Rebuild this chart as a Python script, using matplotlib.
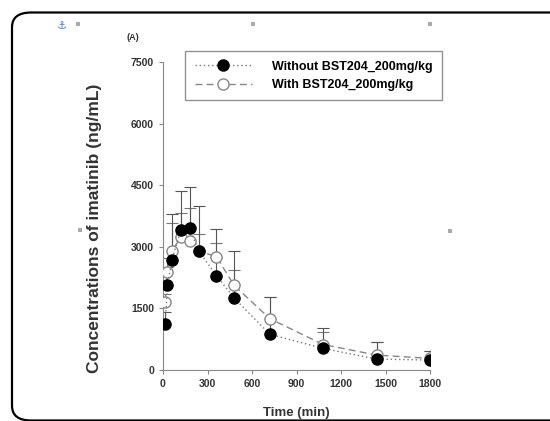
import numpy as np
import matplotlib
matplotlib.use("Agg")
import matplotlib.pyplot as plt
from matplotlib.patches import FancyBboxPatch

# sampling times (min)
time_min = [15, 30, 60, 120, 180, 240, 360, 480, 720, 1080, 1440, 1800]

# imatinib conc (ng/mL)
without_mean = [1120, 2060, 2690, 3400, 3450, 2900, 2300, 1750, 870, 525, 266, 242]
without_sd = [300, 450, 1100, 950, 1000, 1100, 1130, 1140, 900, 500, 420, 225]
with_mean = [1650, 2380, 2900, 3230, 3150, 2900, 2760, 2060, 1250, 620, 363, 283]
with_sd = [200, 350, 680, 600, 800, 400, 330, 380, 530, 300, 320, 180]

label_without = "Without BST204_200mg/kg"
label_with = "With BST204_200mg/kg"
y_ticks = [0, 1500, 3000, 4500, 6000, 7500]
x_ticks = [0, 300, 600, 900, 1200, 1500, 1800]

plt.rcParams['font.family'] = ['Liberation Sans', 'DejaVu Sans']
plt.rcParams['font.weight'] = 'bold'

fig = plt.figure(figsize=(5.5, 4.21), dpi=100)
fig.patch.set_facecolor('white')

# rounded frame of the page box (right side runs off the picture)
frame = FancyBboxPatch((12 / 550, 0.5 / 421), 560 / 550, 408 / 421,
                       boxstyle="round,pad=0,rounding_size=0.035",
                       transform=fig.transFigure, fill=False,
                       edgecolor='black', linewidth=1.6, clip_on=False)
fig.patches.append(frame)

ax = fig.add_axes([163 / 550, 51 / 421, 267 / 550, 308 / 421])

# error bars (upper only)
ax.errorbar(time_min, with_mean, yerr=[np.zeros(len(with_sd)), with_sd],
            fmt='none', ecolor='#777777', elinewidth=0.8, capsize=4, capthick=0.8)
ax.errorbar(time_min, without_mean, yerr=[np.zeros(len(without_sd)), without_sd],
            fmt='none', ecolor='#555555', elinewidth=0.8, capsize=4, capthick=0.8)

ax.plot(time_min, without_mean, linestyle=(0, (1, 2)), color='#777777', linewidth=1.0,
        marker='o', markersize=8, markerfacecolor='black', markeredgecolor='black',
        label=label_without, zorder=4)
ax.plot(time_min, with_mean, linestyle=(0, (5, 3)), color='#888888', linewidth=1.0,
        marker='o', markersize=8, markerfacecolor='white', markeredgecolor='#888888',
        label=label_with, zorder=3)

ax.set_xlim(0, 1800)
ax.set_ylim(0, 7500)
ax.set_xticks(x_ticks)
ax.set_yticks(y_ticks)
ax.tick_params(labelsize=7.5, length=3, color='#888888', width=0.8)
for lab in ax.get_xticklabels() + ax.get_yticklabels():
    lab.set_fontweight('bold')
    lab.set_color('#333333')
ax.spines['top'].set_visible(False)
ax.spines['right'].set_visible(False)
ax.spines['left'].set_color('#888888')
ax.spines['bottom'].set_color('#888888')

ax.set_ylabel("Concentrations of imatinib (ng/mL)", fontsize=12.5, fontweight='bold',
              color='#333333')
ax.yaxis.set_label_coords(-0.228, 0.46)
ax.set_xlabel("Time (min)", fontsize=9.5, fontweight='bold', color='#333333', labelpad=13)

leg = ax.legend(loc='upper left', bbox_to_anchor=(0.06, 1.055), fontsize=9,
                frameon=True, fancybox=False, edgecolor='#777777', handlelength=4.6,
                borderpad=0.75, labelspacing=0.5, handletextpad=1.6)
leg.get_frame().set_linewidth(1.0)
for t in leg.get_texts():
    t.set_fontweight('bold')

fig.text(133 / 550, 1 - 37 / 421, "(A)", fontsize=6.5, fontweight='bold',
         ha='center', va='center', color='#333333')

# word-style anchor icon and handle squares
fig.text(62 / 550, 1 - 26 / 421, "\u2693", fontsize=8, color='#4a7fc1',
         family='DejaVu Sans', ha='center', va='center')
for hx, hy in [(78, 24), (253, 24), (430, 24), (450, 231), (80, 230)]:
    fig.patches.append(plt.Rectangle((hx / 550 - 0.004, 1 - hy / 421 - 0.005), 0.008, 0.01,
                                     transform=fig.transFigure, facecolor='#aaaaaa',
                                     edgecolor='none'))

fig.savefig("out.png", dpi=100)
